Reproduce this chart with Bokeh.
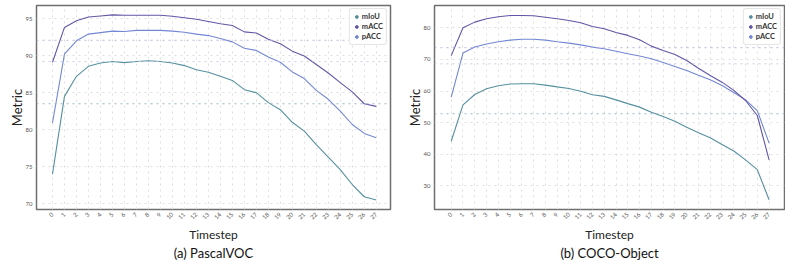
import numpy as np
from bokeh.plotting import figure
from bokeh.layouts import row
from bokeh.models import (FixedTicker, Span, Legend, LegendItem, Title, ColumnDataSource)
from bokeh.embed import file_html
from bokeh.resources import INLINE

timesteps = list(range(28))
tick_labels = [str(t) for t in timesteps]

# (a) PascalVOC
voc_macc = [89.1, 93.8, 94.7, 95.2, 95.35, 95.5, 95.45, 95.45, 95.45, 95.45, 95.3, 95.1,
            94.9, 94.6, 94.3, 94.05, 93.2, 93.05, 92.2, 91.6, 90.6, 89.95, 88.8, 87.65,
            86.35, 85.1, 83.5, 83.15]
voc_pacc = [80.9, 90.2, 92.0, 92.9, 93.1, 93.3, 93.25, 93.4, 93.4, 93.4, 93.3, 93.15,
            92.9, 92.7, 92.3, 91.85, 91.0, 90.7, 89.8, 89.1, 87.8, 86.9, 85.3, 84.1,
            82.5, 80.7, 79.5, 78.9]
voc_miou = [74.0, 84.5, 87.2, 88.55, 89.0, 89.2, 89.05, 89.2, 89.3, 89.2, 89.0, 88.65,
            88.1, 87.75, 87.2, 86.65, 85.4, 85.0, 83.65, 82.7, 81.0, 79.8, 78.0, 76.3,
            74.6, 72.6, 70.95, 70.5]
voc_refs = [92.07, 89.19, 83.5]
voc_yticks = [70, 75, 80, 85, 90, 95]

# (b) COCO-Object
coco_macc = [71.2, 80.0, 81.8, 82.85, 83.5, 83.9, 83.9, 83.8, 83.35, 82.85, 82.3, 81.6,
             80.4, 79.7, 78.5, 77.6, 76.2, 74.2, 72.8, 71.55, 69.65, 67.2, 64.9, 62.8,
             60.2, 57.0, 52.25, 38.2]
coco_pacc = [58.05, 72.0, 73.9, 74.9, 75.6, 76.1, 76.4, 76.4, 76.1, 75.6, 75.15, 74.6,
             73.9, 73.35, 72.6, 71.8, 71.1, 70.2, 69.0, 67.75, 66.5, 65.0, 63.55, 61.75,
             59.5, 57.2, 53.8, 43.5]
coco_miou = [44.1, 55.6, 58.9, 60.7, 61.65, 62.2, 62.3, 62.3, 61.85, 61.3, 60.8, 59.95,
             58.8, 58.3, 57.2, 56.0, 54.9, 53.3, 51.9, 50.45, 48.55, 46.8, 45.2, 43.1,
             41.0, 38.2, 35.1, 25.6]
coco_refs = [73.7, 68.6, 52.8]
coco_yticks = [30, 40, 50, 60, 70, 80]

series_names = ["mIoU", "mACC", "pACC"]
colors = {"mIoU": "#55909f", "mACC": "#6356a6", "pACC": "#7387d4"}
ref_colors = ["#b8b2dc", "#c8cde8", "#9ab8c6"]

FONT = "Lato"


def make_panel(caption, miou, macc, pacc, refs, yticks, xr, yr, width, bl, br):
    p = figure(width=width, height=264, x_range=xr, y_range=yr,
               output_backend="svg", toolbar_location=None, title=None,
               min_border_left=bl, min_border_right=br, min_border_top=5,
               min_border_bottom=55)
    p.outline_line_color = "#6f6f6f"
    p.outline_line_width = 1.5
    p.background_fill_color = "white"

    for yv, c in zip(refs, ref_colors):
        p.add_layout(Span(location=yv, dimension="width", line_color=c,
                          line_width=1, line_dash="dotted"))

    data = {"mIoU": miou, "mACC": macc, "pACC": pacc}
    for name in ["mIoU", "pACC", "mACC"]:
        p.line(timesteps, data[name], line_color=colors[name], line_width=1.1)

    items = []
    for name in series_names:
        src = ColumnDataSource(dict(x=[np.nan], y=[np.nan]))
        r = p.scatter("x", "y", source=src, marker="circle", size=5,
                      fill_color=colors[name], line_color=colors[name])
        items.append(LegendItem(label=name, renderers=[r]))
    leg = Legend(items=items, location="top_right")
    leg.label_text_font = FONT
    leg.label_text_font_size = "7.5px"
    leg.label_text_font_style = "bold"
    leg.label_text_color = "#333333"
    leg.label_height = 9
    leg.glyph_height = 9
    leg.glyph_width = 7
    leg.label_standoff = 2
    leg.spacing = 1
    leg.padding = 3
    leg.margin = 3
    leg.border_line_color = "#cccccc"
    leg.border_line_width = 1
    leg.border_radius = 3
    p.add_layout(leg)

    p.xaxis.ticker = FixedTicker(ticks=timesteps)
    p.xaxis.major_label_overrides = {t: l for t, l in zip(timesteps, tick_labels)}
    p.xaxis.major_label_orientation = np.pi / 4
    p.yaxis.ticker = FixedTicker(ticks=yticks)
    for ax in (p.xaxis[0], p.yaxis[0]):
        ax.axis_line_color = None
        ax.major_tick_line_color = None
        ax.minor_tick_line_color = None
        ax.major_label_text_font = FONT
        ax.major_label_text_font_size = "6px"
        ax.major_label_text_color = "#555555"
        ax.axis_label_text_font = FONT
        ax.axis_label_text_font_size = "13px"
        ax.axis_label_text_font_style = "normal"
        ax.axis_label_text_color = "#222222"
        ax.major_tick_out = 0
        ax.major_tick_in = 0
    p.xaxis.major_label_standoff = 4
    p.yaxis.major_label_standoff = 4
    p.yaxis.axis_label = "Metric"
    p.yaxis.axis_label_standoff = -2

    p.xgrid.grid_line_color = "#dedede"
    p.xgrid.grid_line_dash = "dotted"
    p.ygrid.grid_line_color = "#dedede"
    p.ygrid.grid_line_dash = "dotted"

    xlab = Title(text="Timestep", align="center", text_font=FONT,
                 text_font_size="12px", text_font_style="normal",
                 text_color="#222222", standoff=1)
    p.add_layout(xlab, "below")
    cap = Title(text=caption, align="center", text_font=FONT,
                text_font_size="13px", text_font_style="normal",
                text_color="#111111", standoff=0)
    p.add_layout(cap, "below")
    return p


p1 = make_panel("(a) PascalVOC", voc_miou, voc_macc, voc_pacc, voc_refs, voc_yticks,
                (-1.333, 28.19), (69.23, 96.76), 403, 36, 13)
p2 = make_panel("(b) COCO-Object", coco_miou, coco_macc, coco_pacc, coco_refs, coco_yticks,
                (-1.42, 28.31), (22.5, 87.06), 382, 24, 1)

layout = row(p1, p2, spacing=0)
open("out.html", "w").write(file_html(layout, INLINE))
